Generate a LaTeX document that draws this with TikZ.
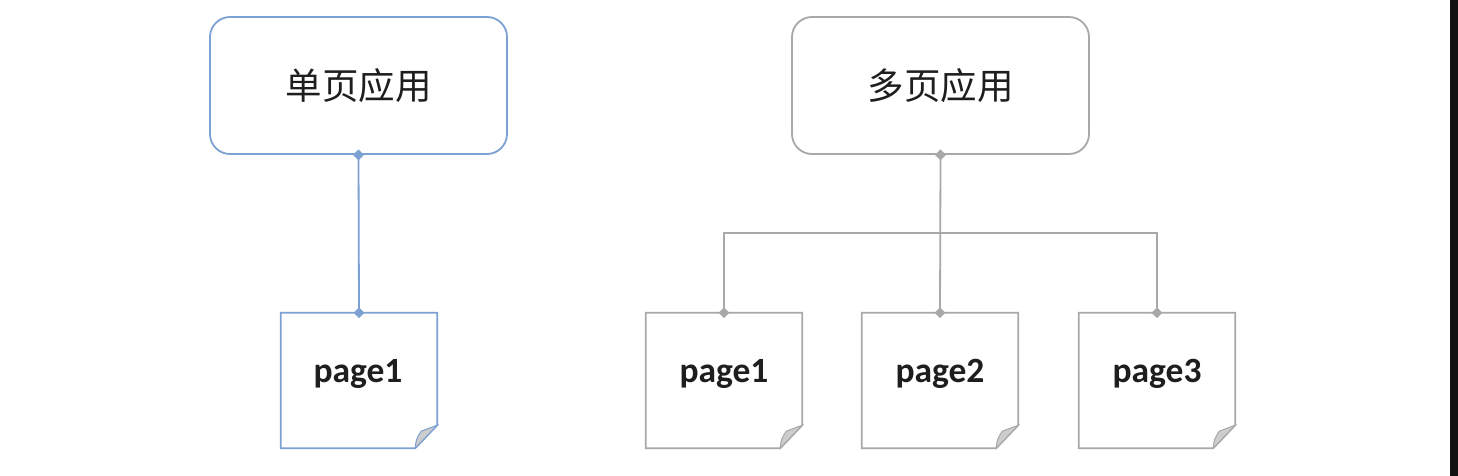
\documentclass[tikz,border=0pt]{standalone}
\usepackage{fontspec}
\setmainfont{Carlito}
\newfontfamily\cjk{Noto Sans CJK SC}
\usetikzlibrary{shapes.geometric}
\definecolor{lblue}{RGB}{125,161,211}
\definecolor{lgray}{RGB}{168,168,168}
\definecolor{foldgray}{RGB}{205,205,205}
\definecolor{txt}{RGB}{30,30,30}
\tikzset{
  appbox/.style={rectangle, rounded corners=20pt, line width=1.8pt, minimum width=297pt, minimum height=137pt, inner sep=0pt, font=\cjk\fontsize{36.5}{42}\selectfont, text=txt},
  pagearea/.style={rectangle, minimum width=156pt, minimum height=135pt, inner sep=0pt, draw=none},
  pagelabel/.style={font=\bfseries\fontsize{35.5}{42}\selectfont, text=txt, inner sep=0pt},
  conn/.style={line width=1.8pt},
  dot/.style={diamond, inner sep=0pt, minimum size=11pt},
}
\newcommand{\pageshape}[2]{%
  \draw[line width=1.8pt, draw=#2] (#1.north west) -- (#1.north east) -- ([yshift=23pt]#1.south east) -- ([xshift=-22pt]#1.south east) -- (#1.south west) -- cycle;
  \filldraw[line width=1pt, draw=#2, fill=foldgray] ([xshift=-22pt]#1.south east) .. controls ([xshift=-21pt,yshift=9pt]#1.south east) .. ([xshift=-16pt,yshift=17pt]#1.south east) -- ([yshift=23pt]#1.south east) -- cycle;
}
\begin{document}
\begin{tikzpicture}[x=1pt,y=-1pt]
\useasboundingbox (0,0) rectangle (1458,476);
\fill[white] (0,0) rectangle (1458,476);
\fill[black!93] (1450,0) rectangle (1458,476);
% left
\node[appbox, draw=lblue] (single) at (358.5,85.5) {单页应用};
\node[pagearea] (sp1) at (359,380.5) {};
\pageshape{sp1}{lblue}
\node[pagelabel] (sp1t) at (358,374) {page1};
\draw[conn, draw=lblue] (single.south) -- (sp1.north);
\node[dot, fill=lblue] (sd1) at (single.south) {};
\node[dot, fill=lblue] (sd2) at (sp1.north) {};
% right
\node[appbox, draw=lgray] (multi) at (940.5,85.5) {多页应用};
\node[pagearea] (mp1) at (724,380.5) {};
\node[pagearea] (mp2) at (940,380.5) {};
\node[pagearea] (mp3) at (1157,380.5) {};
\pageshape{mp1}{lgray}
\pageshape{mp2}{lgray}
\pageshape{mp3}{lgray}
\node[pagelabel] (mp1t) at (724,374) {page1};
\node[pagelabel] (mp2t) at (940,374) {page2};
\node[pagelabel] (mp3t) at (1157,374) {page3};
\coordinate (bus) at (940,233);
\draw[conn, draw=lgray] (multi.south) -- (mp2.north);
\draw[conn, draw=lgray] (mp1.north) |- (bus) -| (mp3.north);
\node[dot, fill=lgray] (md0) at (multi.south) {};
\node[dot, fill=lgray] (md1) at (mp1.north) {};
\node[dot, fill=lgray] (md2) at (mp2.north) {};
\node[dot, fill=lgray] (md3) at (mp3.north) {};
\end{tikzpicture}
\end{document}
